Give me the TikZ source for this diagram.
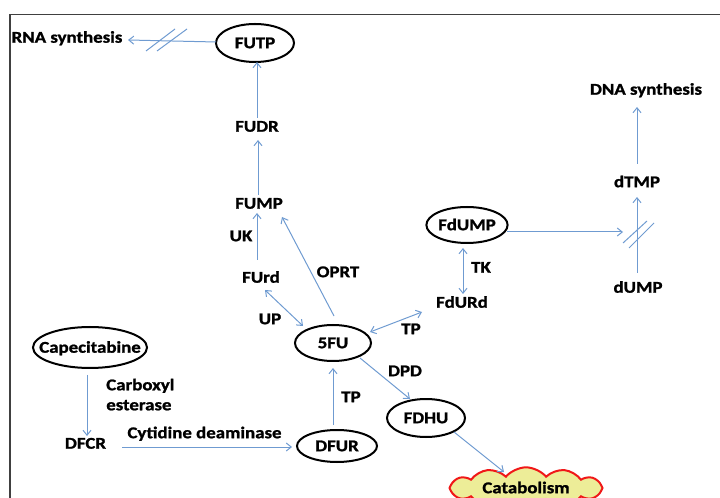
\documentclass[tikz,border=0pt]{standalone}
\usepackage{fontspec}
\newfontfamily\lblfont{Carlito}[FakeStretch=1.15, BoldFeatures={FakeBold=1.3}]
\usetikzlibrary{arrows.meta,shapes.geometric,shapes.symbols}
\definecolor{flow}{HTML}{6F9BD1}
\definecolor{framegray}{HTML}{404040}
\definecolor{cloudfill}{HTML}{EDED98}
\definecolor{cloudline}{HTML}{F01818}

\begin{document}
\begin{tikzpicture}[x=0.75pt,y=-0.75pt,
  every node/.style={font=\lblfont\bfseries\fontsize{12.3}{15}\selectfont,
    inner sep=0pt, text height=7.8pt, text depth=0pt},
  compound/.style={ellipse, draw=black, line width=1.5pt},
  flowarrow/.style={draw=flow, line width=0.75pt,
    -{Straight Barb[length=3.75pt,width=6pt]}},
  bothways/.style={draw=flow, line width=0.75pt,
    {Straight Barb[length=3.75pt,width=6pt]}-{Straight Barb[length=3.75pt,width=6pt]}},
  slash/.style={draw=flow, line width=0.75pt}
]
\useasboundingbox (0,0) rectangle (720,498);
\clip (0,0) rectangle (720,498);

% frame
\draw[framegray, line width=1.1pt] (10,500) -- (10,14.5) -- (722,14.5);

% compounds in ellipses
\node[compound, minimum width=58.5pt, minimum height=28.5pt] (futp) at (255,43) {FUTP};
\node[compound, minimum width=57pt, minimum height=27pt] (fiveFU) at (333,343) {5FU};
\node[compound, minimum width=58.5pt, minimum height=27pt] (fdump) at (467,225) {FdUMP};
\node[compound, minimum width=85.5pt, minimum height=30.75pt] (cape) at (90,347.5) {\makebox[0pt]{Capecitabine}};
\node[compound, minimum width=60pt, minimum height=24pt] (dfur) at (337,446) {DFUR};
\node[compound, minimum width=58.5pt, minimum height=28.5pt] (fdhu) at (426,418) {FDHU};

% plain metabolites
\node (rna) at (67,37.5) {RNA synthesis};
\node (fudr) at (257,126.5) {FUDR};
\node (fump) at (259,203.5) {FUMP};
\node (furd) at (261,277.5) {FUrd};
\node (fdurd) at (462,302.5) {FdURd};
\node (dtmp) at (637,182) {dTMP};
\node (dump) at (638,287.5) {dUMP};
\node (dna) at (646,89.5) {DNA synthesis};
\node (dfcr) at (85.5,443.5) {DFCR};

% enzymes
\node (uk) at (241,236) {UK};
\node (oprt) at (338,272) {OPRT};
\node (up) at (270,319) {UP};
\node (tk) at (481,267.5) {TK};
\node (tpa) at (411,329) {TP};
\node (tpb) at (351,397) {TP};
\node (dpd) at (405,371) {DPD};
\node (cyt) at (204.5,433) {Cytidine deaminase};
\node[anchor=north west, align=left, text height=, text depth=] (carb) at (106,378.5) {Carboxyl\\esterase};

% catabolism cloud
\node[cloud, cloud puffs=12, cloud puff arc=100, aspect=4.5, draw=cloudline, fill=cloudfill,
  line width=1.5pt, minimum width=114.75pt, minimum height=27pt] (cat) at (526,488) {Catabolism};

% pathway arrows
\draw[flowarrow] ([shift={(-39,-1)}]futp.center) -- ([shift={(61,2.5)}]rna.center);
\draw[flowarrow] ([shift={(0,-8.5)}]fudr.center) -- ([shift={(2,19)}]futp.center);
\draw[flowarrow] ([shift={(-1,-8.5)}]fump.center) -- ([shift={(1,13.5)}]fudr.center);
\draw[flowarrow] ([shift={(-4,-17.5)}]furd.center) -- ([shift={(-2,9.5)}]fump.center);
\draw[flowarrow] ([shift={(1,-27)}]fiveFU.center) -- ([shift={(23,13.5)}]fump.center);
\draw[bothways] ([shift={(4,12.5)}]furd.center) -- ([shift={(-30,-17)}]fiveFU.center);
\draw[flowarrow] ([shift={(40,7)}]fdump.center) -- ([shift={(-15,-55.5)}]dump.center);
\draw[flowarrow] ([shift={(-1,-14.5)}]dump.center) -- ([shift={(0,15)}]dtmp.center);
\draw[flowarrow] ([shift={(0,-18)}]dtmp.center) -- ([shift={(-9,17.5)}]dna.center);
\draw[bothways] ([shift={(-4,23)}]fdump.center) -- ([shift={(1,-8.5)}]fdurd.center);
\draw[bothways] ([shift={(37,-11)}]fiveFU.center) -- ([shift={(-40,9.5)}]fdurd.center);
\draw[flowarrow] ([shift={(-3,27.5)}]cape.center) -- ([shift={(1.5,-7.5)}]dfcr.center);
\draw[flowarrow] ([shift={(36.5,3.5)}]dfcr.center) -- ([shift={(-45,1)}]dfur.center);
\draw[flowarrow] ([shift={(-4,-21)}]dfur.center) -- ([shift={(0,25)}]fiveFU.center);
\draw[flowarrow] ([shift={(27,15)}]fiveFU.center) -- ([shift={(-16,-19)}]fdhu.center);
\draw[flowarrow] ([shift={(28,14)}]fdhu.center) -- ([shift={(-22,-16)}]cat.center);

% blocked steps
\draw[slash] (146,51) -- (175,29);
\draw[slash] (157,51) -- (187,29);
\draw[slash] (623,243) -- (647,221);
\draw[slash] (629,248) -- (654,223);
\end{tikzpicture}
\end{document}
